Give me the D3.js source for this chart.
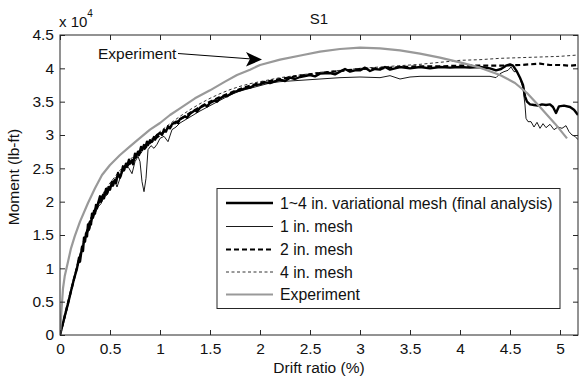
<!DOCTYPE html>
<html>
<head>
<meta charset="utf-8">
<script src="https://cdn.jsdelivr.net/npm/d3@7/dist/d3.min.js"></script>
<style>
  html, body { margin: 0; padding: 0; background: #fff; }
  svg { display: block; font-family: "Liberation Sans", Arial, sans-serif; }
</style>
</head>
<body>
<svg id="chart" width="582" height="378"></svg>
<script>
// Drift ratio (%) vs. moment (x 10^4 lb-ft), specimen S1
const xTicks = [0, 0.5, 1, 1.5, 2, 2.5, 3, 3.5, 4, 4.5, 5];
const yTicks = [0, 0.5, 1, 1.5, 2, 2.5, 3, 3.5, 4, 4.5];

const variationalMesh = [[0,0],[0.02,0.12],[0.05,0.3],[0.08,0.47],[0.11,0.66],[0.14,0.84],[0.17,1.0],[0.19,1.16],[0.2,1.1],[0.22,1.32],[0.23,1.26],[0.24,1.46],[0.25,1.4],[0.26,1.52],[0.27,1.48],[0.28,1.66],[0.29,1.58],[0.3,1.7],[0.31,1.66],[0.32,1.82],[0.33,1.76],[0.34,1.86],[0.35,1.82],[0.36,1.95],[0.37,1.9],[0.38,1.97],[0.4,2.08],[0.41,2.0],[0.43,2.1],[0.44,2.05],[0.46,2.19],[0.47,2.12],[0.49,2.22],[0.5,2.18],[0.52,2.3],[0.53,2.24],[0.55,2.33],[0.56,2.28],[0.58,2.43],[0.6,2.36],[0.61,2.4],[0.63,2.53],[0.64,2.47],[0.66,2.57],[0.67,2.52],[0.69,2.63],[0.7,2.57],[0.72,2.62],[0.73,2.56],[0.75,2.72],[0.76,2.67],[0.78,2.75],[0.79,2.7],[0.81,2.82],[0.82,2.77],[0.84,2.85],[0.85,2.8],[0.87,2.9],[0.88,2.85],[0.9,2.92],[0.92,2.9],[0.94,2.97],[0.95,2.93],[0.97,3.0],[1.0,3.03],[1.02,3.0],[1.04,3.08],[1.06,3.05],[1.08,3.13],[1.1,3.1],[1.12,3.16],[1.16,3.2],[1.18,3.18],[1.2,3.24],[1.25,3.28],[1.27,3.26],[1.3,3.32],[1.35,3.37],[1.37,3.35],[1.4,3.41],[1.45,3.45],[1.47,3.43],[1.5,3.48],[1.55,3.52],[1.57,3.5],[1.6,3.55],[1.65,3.59],[1.67,3.58],[1.7,3.61],[1.75,3.65],[1.8,3.67],[1.85,3.7],[1.9,3.71],[1.95,3.75],[2.0,3.76],[2.05,3.79],[2.1,3.78],[2.2,3.83],[2.25,3.81],[2.3,3.86],[2.35,3.84],[2.4,3.87],[2.5,3.9],[2.55,3.88],[2.6,3.92],[2.7,3.93],[2.75,3.91],[2.8,3.95],[2.85,3.99],[2.9,3.95],[2.95,3.97],[3.0,3.97],[3.05,4.01],[3.1,3.96],[3.15,3.99],[3.2,3.98],[3.25,4.02],[3.3,3.98],[3.35,4.0],[3.4,4.02],[3.5,4.0],[3.6,4.02],[3.7,4.0],[3.8,4.02],[3.9,4.01],[4.0,4.02],[4.1,4.01],[4.2,4.02],[4.3,4.0],[4.36,3.97],[4.41,3.99],[4.46,4.04],[4.5,4.06],[4.53,4.04],[4.57,3.95],[4.6,3.86],[4.63,3.75],[4.65,3.58],[4.67,3.5],[4.7,3.46],[4.74,3.45],[4.78,3.44],[4.82,3.46],[4.86,3.45],[4.9,3.46],[4.93,3.42],[4.96,3.33],[4.99,3.43],[5.04,3.44],[5.1,3.42],[5.14,3.38],[5.18,3.3]];

const mesh1in = [[0,0],[0.04,0.2],[0.08,0.45],[0.12,0.72],[0.16,0.95],[0.2,1.15],[0.24,1.38],[0.27,1.52],[0.3,1.6],[0.32,1.72],[0.35,1.82],[0.38,1.92],[0.41,1.97],[0.44,2.07],[0.47,2.1],[0.5,2.2],[0.53,2.28],[0.55,2.3],[0.57,2.22],[0.6,2.35],[0.63,2.47],[0.66,2.55],[0.69,2.5],[0.72,2.42],[0.75,2.6],[0.78,2.68],[0.8,2.6],[0.82,2.3],[0.84,2.15],[0.86,2.35],[0.88,2.78],[0.91,2.84],[0.94,2.8],[0.97,2.86],[1.0,2.95],[1.04,2.98],[1.08,2.9],[1.12,3.08],[1.16,3.12],[1.2,3.18],[1.3,3.27],[1.4,3.36],[1.5,3.44],[1.6,3.52],[1.7,3.6],[1.8,3.66],[1.9,3.7],[2.0,3.74],[2.1,3.78],[2.2,3.8],[2.4,3.82],[2.6,3.84],[2.8,3.86],[3.0,3.87],[3.2,3.86],[3.3,3.89],[3.4,3.84],[3.5,3.87],[3.6,3.88],[3.8,3.88],[4.0,3.88],[4.2,3.88],[4.3,3.88],[4.36,3.86],[4.4,3.92],[4.44,3.95],[4.48,3.97],[4.51,4.02],[4.54,3.95],[4.57,3.95],[4.6,3.85],[4.63,3.7],[4.65,3.45],[4.66,3.25],[4.68,3.2],[4.71,3.2],[4.74,3.12],[4.77,3.19],[4.8,3.1],[4.83,3.17],[4.86,3.11],[4.9,3.16],[4.94,3.08],[4.98,3.12],[5.02,3.1],[5.06,3.14],[5.09,3.05],[5.12,3.0],[5.15,2.98],[5.18,2.93]];

const mesh2in = [[0,0],[0.05,0.3],[0.1,0.6],[0.15,0.9],[0.2,1.18],[0.25,1.47],[0.3,1.7],[0.35,1.88],[0.4,2.02],[0.45,2.13],[0.5,2.24],[0.6,2.42],[0.7,2.58],[0.8,2.73],[0.9,2.88],[1.0,3.0],[1.1,3.12],[1.2,3.23],[1.3,3.33],[1.4,3.42],[1.5,3.5],[1.6,3.57],[1.7,3.63],[1.8,3.69],[1.9,3.74],[2.0,3.78],[2.2,3.84],[2.4,3.89],[2.6,3.93],[2.8,3.96],[3.0,3.99],[3.2,4.0],[3.4,4.02],[3.6,4.03],[3.8,4.03],[4.0,4.04],[4.2,4.04],[4.4,4.04],[4.6,4.05],[4.8,4.07],[4.9,4.05],[5.0,4.05],[5.1,4.04],[5.18,4.05]];

const mesh4in = [[0,0],[0.05,0.3],[0.1,0.62],[0.15,0.92],[0.2,1.2],[0.25,1.48],[0.3,1.72],[0.35,1.9],[0.4,2.05],[0.45,2.17],[0.5,2.28],[0.6,2.47],[0.7,2.63],[0.8,2.78],[0.9,2.92],[1.0,3.05],[1.1,3.17],[1.2,3.28],[1.3,3.38],[1.4,3.47],[1.5,3.55],[1.6,3.62],[1.7,3.68],[1.8,3.73],[1.9,3.77],[2.0,3.8],[2.2,3.86],[2.4,3.9],[2.6,3.94],[2.8,3.97],[3.0,4.0],[3.2,4.02],[3.4,4.04],[3.6,4.06],[3.8,4.09],[4.0,4.12],[4.2,4.13],[4.4,4.15],[4.6,4.16],[4.8,4.17],[5.0,4.18],[5.18,4.2]];

const experiment = [[0,0],[0.013,0.33],[0.03,0.7],[0.047,0.88],[0.08,1.1],[0.11,1.3],[0.147,1.48],[0.2,1.7],[0.28,1.98],[0.35,2.2],[0.42,2.4],[0.5,2.55],[0.6,2.7],[0.7,2.83],[0.78,2.93],[0.9,3.08],[1.0,3.18],[1.1,3.3],[1.2,3.4],[1.35,3.55],[1.5,3.67],[1.65,3.8],[1.77,3.9],[1.9,3.98],[2.0,4.05],[2.2,4.13],[2.43,4.2],[2.6,4.25],[2.8,4.29],[3.0,4.31],[3.2,4.3],[3.4,4.27],[3.6,4.22],[3.8,4.16],[4.0,4.09],[4.2,4.01],[4.4,3.9],[4.55,3.78],[4.67,3.63],[4.8,3.42],[4.95,3.17],[5.07,2.95]];

const legendLabels = ["1~4 in. variational mesh (final analysis)", "1 in. mesh", "2 in. mesh", "4 in. mesh", "Experiment"];

const series = [
  { data: variationalMesh, stroke: "#000", width: 2.4, dash: null },
  { data: mesh1in,         stroke: "#000", width: 0.9, dash: null },
  { data: mesh2in,         stroke: "#000", width: 2.2, dash: "5,3" },
  { data: mesh4in,         stroke: "#000", width: 0.8, dash: "3,2.5" },
  { data: experiment,      stroke: "#999", width: 2.2, dash: null }
];

const svg = d3.select("#chart");
const margin = { left: 60, top: 35, right: 4, bottom: 43 };
const W = 582 - margin.left - margin.right;
const H = 378 - margin.top - margin.bottom;

const x = d3.scaleLinear().domain([0, 5.18]).range([margin.left, margin.left + W]);
const y = d3.scaleLinear().domain([0, 4.5]).range([margin.top + H, margin.top]);

const fmt = d => String(+d.toFixed(1));
const axisColor = "#262626";
const tickFont = "15.5px";

svg.append("defs").append("clipPath").attr("id", "plotClip")
  .append("rect").attr("x", margin.left).attr("y", margin.top).attr("width", W).attr("height", H);

// Data lines
const line = d3.line().x(d => x(d[0])).y(d => y(d[1]));
const plot = svg.append("g").attr("clip-path", "url(#plotClip)");
series.forEach(s => {
  plot.append("path")
    .attr("d", line(s.data))
    .attr("fill", "none")
    .attr("stroke", s.stroke)
    .attr("stroke-width", s.width)
    .attr("stroke-linejoin", "round")
    .attr("stroke-dasharray", s.dash);
});

// Axes with inward ticks on all four sides
function styleAxis(g) {
  g.select(".domain").remove();
  g.selectAll(".tick line").attr("stroke", axisColor);
  g.selectAll(".tick text").attr("fill", "#111").style("font-size", tickFont);
}
svg.append("g").attr("transform", `translate(0,${margin.top + H})`)
  .call(d3.axisBottom(x).tickValues(xTicks).tickFormat(fmt).tickSize(-5).tickPadding(8))
  .call(styleAxis);
svg.append("g").attr("transform", `translate(${margin.left},0)`)
  .call(d3.axisLeft(y).tickValues(yTicks).tickFormat(fmt).tickSize(-5).tickPadding(6))
  .call(styleAxis);
svg.append("g").attr("transform", `translate(0,${margin.top})`)
  .call(d3.axisTop(x).tickValues(xTicks).tickFormat("").tickSize(-5))
  .call(styleAxis);
svg.append("g").attr("transform", `translate(${margin.left + W},0)`)
  .call(d3.axisRight(y).tickValues(yTicks).tickFormat("").tickSize(-5))
  .call(styleAxis);

svg.append("rect")
  .attr("x", margin.left).attr("y", margin.top).attr("width", W).attr("height", H)
  .attr("fill", "none").attr("stroke", axisColor).attr("stroke-width", 1);

// Exponent label, title and axis titles
const expo = svg.append("text").attr("x", 59).attr("y", 27).attr("fill", "#111").style("font-size", "15px");
expo.append("tspan").text("x 10");
expo.append("tspan").attr("dy", -10).style("font-size", "10px").text("4");

svg.append("text").attr("x", margin.left + W / 2).attr("y", 24)
  .attr("text-anchor", "middle").attr("fill", "#111").style("font-size", "15px").text("S1");

svg.append("text").attr("x", margin.left + W / 2).attr("y", 373)
  .attr("text-anchor", "middle").attr("fill", "#111").style("font-size", "15.5px").text("Drift ratio (%)");

svg.append("text").attr("transform", "translate(19,177) rotate(-90)")
  .attr("text-anchor", "middle").attr("fill", "#111").style("font-size", "15.5px").text("Moment (lb-ft)");

// Annotation arrow pointing at the experimental curve
svg.append("text").attr("x", 98).attr("y", 58.5).attr("fill", "#111").style("font-size", "15.5px").text("Experiment");
svg.append("line").attr("x1", 178).attr("y1", 53.5).attr("x2", 252).attr("y2", 59)
  .attr("stroke", "#000").attr("stroke-width", 1);
svg.append("path").attr("d", "M262,59.5 L246,52 L250,59 L246,66.5 Z").attr("fill", "#000");

// Legend
const lg = svg.append("g");
lg.append("rect").attr("x", 217).attr("y", 188.5).attr("width", 343).attr("height", 120)
  .attr("fill", "#fff").attr("stroke", axisColor).attr("stroke-width", 1);
const rowY = [203, 226.5, 249.5, 272, 294.5];
series.forEach((s, i) => {
  lg.append("line").attr("x1", 226).attr("x2", 273).attr("y1", rowY[i]).attr("y2", rowY[i])
    .attr("stroke", s.stroke).attr("stroke-width", s.width).attr("stroke-dasharray", s.dash);
  lg.append("text").attr("x", 280).attr("y", rowY[i] + 5.5).attr("fill", "#111")
    .style("font-size", "15.8px").text(legendLabels[i]);
});
</script>
</body>
</html>
